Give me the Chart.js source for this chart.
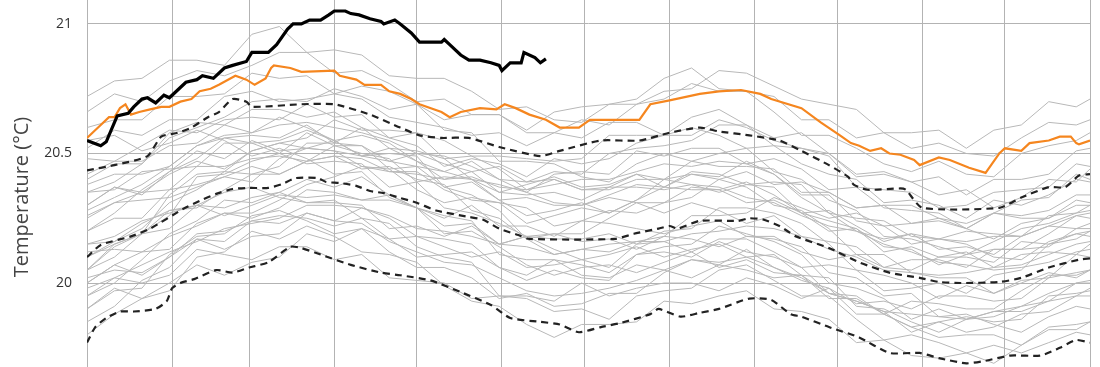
<!DOCTYPE html>
<html><head><meta charset="utf-8">
<script src="https://cdn.jsdelivr.net/npm/chart.js@4/dist/chart.umd.min.js"></script>
<style>
html,body{margin:0;padding:0;background:#fff;overflow:hidden;width:1100px;height:367px;}
#wrap{position:absolute;left:0;top:-10px;width:1100px;height:414px;}
</style></head><body>
<div id="wrap"><canvas id="c"></canvas></div>
<script>
const monthStartDays = [0,31,59,90,120,151,181,212,243,273,304,334,365];
const yTickValues = [20, 20.5, 21];
const yMin = 19.533, yMax = 21.131;

const greyDays = [0,10,20,30,40,50,60,70,80,90,100,110,120,130,140,150,160,170,180,190,200,210,220,230,240,250,260,270,280,290,300,310,320,330,340,350,360,365];
const grey01 = [20.72,20.78,20.79,20.86,20.86,20.84,20.96,20.99,20.89,20.90,20.88,20.80,20.79,20.79,20.74,20.67,20.68,20.63,20.62,20.69,20.69,20.74,20.75,20.82,20.81,20.76,20.71,20.69,20.67,20.58,20.58,20.59,20.52,20.59,20.61,20.70,20.68,20.71];
const grey02 = [20.66,20.73,20.70,20.78,20.82,20.80,20.84,20.89,20.89,20.81,20.82,20.77,20.70,20.71,20.65,20.65,20.59,20.66,20.68,20.69,20.71,20.79,20.83,20.75,20.74,20.72,20.63,20.63,20.56,20.58,20.52,20.54,20.50,20.49,20.56,20.62,20.61,20.63];
const grey03 = [20.60,20.63,20.63,20.72,20.72,20.73,20.81,20.79,20.80,20.73,20.76,20.74,20.69,20.63,20.65,20.65,20.58,20.58,20.63,20.61,20.69,20.71,20.77,20.74,20.74,20.66,20.57,20.57,20.52,20.46,20.43,20.47,20.42,20.41,20.50,20.53,20.55,20.58];
const grey04 = [20.52,20.59,20.57,20.63,20.63,20.72,20.74,20.70,20.71,20.73,20.71,20.64,20.62,20.60,20.57,20.58,20.53,20.58,20.56,20.62,20.62,20.57,20.64,20.67,20.61,20.56,20.58,20.50,20.41,20.42,20.39,20.34,20.36,20.29,20.33,20.40,20.39,20.44];
const grey05 = [20.48,20.47,20.53,20.59,20.58,20.63,20.64,20.63,20.69,20.64,20.65,20.56,20.58,20.55,20.49,20.49,20.48,20.47,20.48,20.57,20.57,20.57,20.60,20.57,20.52,20.53,20.46,20.42,20.40,20.31,20.32,20.30,20.25,20.32,20.30,20.34,20.40,20.39];
const grey06 = [20.42,20.47,20.47,20.53,20.54,20.61,20.58,20.64,20.60,20.55,20.57,20.54,20.47,20.43,20.47,20.40,20.35,20.42,20.43,20.42,20.51,20.49,20.52,20.52,20.46,20.48,20.44,20.36,20.37,20.29,20.28,20.27,20.21,20.27,20.26,20.28,20.34,20.34];
const grey07 = [20.38,20.42,20.42,20.45,20.53,20.56,20.54,20.55,20.59,20.55,20.49,20.52,20.47,20.40,20.43,20.35,20.34,20.35,20.32,20.37,20.42,20.40,20.47,20.45,20.45,20.44,20.35,20.35,20.29,20.30,20.23,20.24,20.21,20.17,20.23,20.25,20.32,20.31];
const grey08 = [20.35,20.36,20.43,20.44,20.45,20.54,20.54,20.50,20.58,20.53,20.50,20.48,20.39,20.41,20.40,20.32,20.33,20.30,20.30,20.34,20.38,20.37,20.43,20.42,20.38,20.39,20.38,20.27,20.25,20.24,20.18,20.17,20.20,20.19,20.18,20.26,20.27,20.28];
const grey09 = [20.30,20.37,20.35,20.42,20.47,20.44,20.51,20.54,20.52,20.55,20.49,20.47,20.45,20.37,20.39,20.32,20.26,20.28,20.31,20.27,20.32,20.37,20.36,20.36,20.39,20.34,20.27,20.28,20.22,20.16,20.19,20.13,20.14,20.11,20.18,20.22,20.21,20.23];
const grey10 = [20.26,20.31,20.35,20.36,20.45,20.45,20.48,20.49,20.47,20.49,20.48,20.43,20.43,20.36,20.32,20.31,20.29,20.22,20.24,20.28,20.27,20.31,20.37,20.36,20.31,20.32,20.27,20.20,20.21,20.14,20.13,20.07,20.11,20.13,20.13,20.14,20.21,20.21];
const grey11 = [20.05,20.10,20.19,20.28,20.29,20.36,20.42,20.42,20.47,20.53,20.53,20.47,20.50,20.46,20.43,20.45,20.39,20.43,20.42,20.50,20.52,20.53,20.55,20.61,20.61,20.53,20.52,20.50,20.42,20.43,20.39,20.41,20.34,20.40,20.40,20.42,20.51,20.52];
const grey12 = [20.55,20.57,20.51,20.54,20.59,20.55,20.49,20.52,20.48,20.42,20.43,20.33,20.29,20.19,20.20,20.14,20.07,20.03,20.06,20.07,20.04,20.08,20.12,20.06,20.09,20.04,20.03,19.94,19.94,19.88,19.83,19.85,19.87,19.85,19.86,19.95,19.96,19.97];
const grey13 = [20.20,20.25,20.25,20.36,20.38,20.41,20.39,20.48,20.52,20.51,20.49,20.50,20.49,20.37,20.34,20.28,20.17,20.19,20.16,20.17,20.13,20.18,20.17,20.14,20.18,20.18,20.12,20.09,20.11,20.06,20.05,20.10,20.10,20.08,20.16,20.15,20.19,20.20];
const grey14 = [20.15,20.16,20.23,20.28,20.30,20.29,20.33,20.35,20.31,20.31,20.30,20.21,20.22,20.18,20.22,20.15,20.18,20.19,20.19,20.25,20.31,20.31,20.33,20.40,20.37,20.30,20.28,20.21,20.11,20.11,20.04,20.02,20.02,19.96,20.00,20.04,20.02,20.05];
const grey15 = [20.00,20.07,20.03,20.10,20.17,20.13,20.18,20.19,20.27,20.24,20.29,20.25,20.18,20.17,20.15,20.06,20.01,20.05,20.02,20.01,20.11,20.14,20.15,20.22,20.19,20.16,20.11,20.00,19.98,19.94,19.86,19.90,19.86,19.87,19.91,19.93,19.95,19.98];
const grey16 = [19.90,19.97,19.98,20.11,20.18,20.19,20.26,20.28,20.24,20.19,20.21,20.12,20.06,20.06,20.02,19.94,19.96,19.91,19.92,19.96,19.96,20.04,20.09,20.07,20.13,20.06,20.01,19.98,19.88,19.88,19.83,19.79,19.80,19.80,19.76,19.83,19.84,19.85];
const grey17 = [19.95,20.02,20.00,20.03,20.13,20.11,20.09,20.14,20.14,20.09,20.11,20.02,20.01,20.00,19.94,19.95,19.95,19.93,20.00,19.95,19.98,20.00,20.00,19.97,20.02,19.99,19.94,19.98,19.92,19.93,19.90,19.95,19.95,19.93,19.94,20.02,20.04,20.05];
const grey18 = [20.05,20.15,20.19,20.26,20.41,20.42,20.47,20.50,20.46,20.47,20.46,20.37,20.39,20.29,20.27,20.23,20.18,20.13,20.09,20.11,20.14,20.10,20.13,20.15,20.10,20.11,20.03,20.02,19.91,19.90,19.85,19.81,19.86,19.89,19.89,19.93,20.00,20.00];
const grey19 = [20.30,20.37,20.34,20.43,20.51,20.48,20.55,20.51,20.52,20.51,20.45,20.44,20.36,20.31,20.33,20.31,20.23,20.26,20.29,20.27,20.32,20.40,20.42,20.41,20.47,20.42,20.34,20.34,20.24,20.22,20.15,20.17,20.15,20.10,20.09,20.16,20.19,20.18];
const grey20 = [20.10,20.16,20.21,20.31,20.36,20.43,20.42,20.45,20.54,20.54,20.60,20.52,20.51,20.48,20.40,20.38,20.35,20.31,20.30,20.33,20.31,20.27,20.31,20.28,20.23,20.26,20.18,20.16,20.14,20.06,20.09,20.09,20.06,20.13,20.13,20.19,20.26,20.25];
const grey21 = [20.00,20.07,20.12,20.13,20.23,20.27,20.25,20.29,20.36,20.35,20.32,20.34,20.29,20.25,20.30,20.22,20.22,20.18,20.24,20.23,20.21,20.19,20.22,20.24,20.18,20.17,20.14,20.04,20.02,19.95,19.96,19.87,19.88,19.84,19.81,19.87,19.91,19.90];
const grey22 = [20.20,20.27,20.36,20.43,20.48,20.56,20.57,20.56,20.61,20.54,20.53,20.44,20.45,20.43,20.40,20.35,20.38,20.41,20.37,20.38,20.42,20.37,20.42,20.40,20.43,20.38,20.39,20.35,20.29,20.30,20.30,20.25,20.23,20.27,20.25,20.25,20.30,20.30];
const grey23 = [19.85,19.91,20.01,20.06,20.17,20.16,20.24,20.26,20.25,20.22,20.25,20.23,20.14,20.10,20.08,19.95,19.94,19.89,19.90,19.86,19.95,19.97,19.98,20.05,20.07,20.01,19.95,19.95,19.86,19.78,19.80,19.77,19.73,19.76,19.73,19.77,19.81,19.80];
const grey24 = [20.25,20.31,20.32,20.33,20.37,20.41,20.45,20.42,20.47,20.49,20.44,20.45,20.40,20.38,20.28,20.25,20.17,20.11,20.13,20.15,20.16,20.18,20.26,20.26,20.27,20.33,20.29,20.25,20.27,20.22,20.23,20.25,20.21,20.27,20.32,20.33,20.42,20.40];
const grey25 = [19.80,19.88,19.94,19.97,20.10,20.12,20.20,20.17,20.22,20.18,20.12,20.11,20.08,19.99,19.93,19.91,19.84,19.79,19.84,19.84,19.85,19.93,19.92,19.95,19.97,19.90,19.89,19.86,19.77,19.78,19.72,19.71,19.73,19.69,19.76,19.82,19.82,19.85];
const grey26 = [20.15,20.18,20.24,20.27,20.30,20.35,20.37,20.33,20.31,20.32,20.25,20.17,20.18,20.14,20.10,20.12,20.06,20.07,20.09,20.06,20.15,20.20,20.21,20.29,20.29,20.27,20.23,20.15,20.05,20.03,20.00,19.94,19.99,19.96,20.01,20.02,20.11,20.10];
const grey27 = [20.05,20.14,20.19,20.34,20.42,20.43,20.51,20.54,20.56,20.63,20.59,20.59,20.58,20.48,20.49,20.44,20.36,20.40,20.36,20.36,20.40,20.40,20.38,20.35,20.38,20.37,20.27,20.24,20.21,20.12,20.14,20.10,20.12,20.06,20.11,20.12,20.11,20.15];
const grey28 = [20.40,20.46,20.46,20.58,20.62,20.61,20.67,20.67,20.64,20.66,20.60,20.56,20.53,20.45,20.48,20.46,20.41,20.48,20.46,20.48,20.54,20.57,20.57,20.63,20.60,20.55,20.52,20.49,20.37,20.36,20.35,20.29,20.30,20.35,20.36,20.37,20.46,20.45];
const grey29 = [19.95,20.00,20.09,20.19,20.24,20.32,20.31,20.35,20.40,20.37,20.41,20.34,20.29,20.26,20.24,20.11,20.09,20.09,20.03,20.02,20.07,20.05,20.02,20.07,20.05,20.02,20.03,19.96,19.95,19.88,19.93,19.92,19.90,19.90,19.97,20.03,20.03,20.05];
const grey30 = [20.10,20.15,20.19,20.21,20.30,20.26,20.30,20.34,20.33,20.34,20.32,20.32,20.29,20.22,20.23,20.15,20.18,20.17,20.17,20.19,20.15,20.16,20.12,20.17,20.17,20.12,20.06,20.07,20.05,19.97,19.98,20.00,19.96,20.03,20.05,20.15,20.17,20.20];
const grey31 = [20.35,20.39,20.46,20.56,20.60,20.64,20.70,20.71,20.70,20.75,20.72,20.67,20.69,20.59,20.58,20.47,20.47,20.46,20.41,20.39,20.46,20.50,20.47,20.50,20.52,20.43,20.40,20.32,20.28,20.18,20.17,20.14,20.11,20.16,20.21,20.23,20.27,20.30];
const grey32 = [19.90,19.98,19.94,20.00,20.07,20.03,20.08,20.10,20.19,20.16,20.21,20.17,20.10,20.11,20.12,20.06,20.03,20.09,20.07,20.04,20.11,20.12,20.10,20.16,20.12,20.10,20.06,19.96,19.93,19.89,19.81,19.85,19.81,19.83,19.88,19.89,19.95,19.95];
const grey33 = [20.12,20.13,20.12,20.18,20.22,20.27,20.27,20.32,20.38,20.41,20.45,20.43,20.42,20.40,20.41,20.37,20.36,20.38,20.40,20.40,20.43,20.46,20.45,20.47,20.46,20.42,20.33,20.27,20.20,20.15,20.12,20.08,20.07,20.05,20.06,20.08,20.12,20.13];
const grey34 = [19.98,20.02,20.07,20.12,20.16,20.21,20.23,20.25,20.30,20.30,20.29,20.26,20.21,20.20,20.18,20.15,20.14,20.11,20.13,20.12,20.16,20.16,20.19,20.20,20.22,20.21,20.18,20.13,20.10,20.05,20.04,20.03,20.04,20.06,20.07,20.11,20.15,20.16];
const grey35 = [20.28,20.33,20.38,20.45,20.53,20.57,20.58,20.61,20.62,20.60,20.58,20.55,20.50,20.49,20.45,20.40,20.39,20.40,20.36,20.37,20.37,20.36,20.38,20.37,20.33,20.31,20.26,20.22,20.20,20.17,20.19,20.17,20.16,20.18,20.18,20.22,20.26,20.27];
const grey36 = [20.02,20.05,20.04,20.10,20.19,20.20,20.24,20.23,20.27,20.24,20.23,20.16,20.12,20.08,20.07,20.02,19.97,19.95,19.96,19.98,20.01,20.05,20.09,20.08,20.10,20.06,20.02,19.96,19.93,19.89,19.88,19.87,19.86,19.89,19.91,19.96,20.00,20.01];

const orangeDays = [0,2,5,8,10,12,14,16,19,23,27,30,34,38,41,45,48,54,58,61,65,67,68,74,78,90,92,98,101,107,110,114,118,121,129,132,136,143,149,152,156,161,167,172,179,183,201,205,212,223,230,238,245,249,260,267,274,278,281,285,289,292,296,301,303,310,314,321,327,329,332,334,340,343,350,354,358,360,361,365];
const orangeValues = [20.56,20.58,20.61,20.64,20.64,20.675,20.69,20.65,20.66,20.67,20.68,20.68,20.70,20.71,20.74,20.75,20.765,20.80,20.785,20.765,20.79,20.83,20.84,20.83,20.815,20.82,20.80,20.785,20.765,20.765,20.74,20.73,20.71,20.69,20.66,20.64,20.66,20.675,20.67,20.69,20.675,20.65,20.63,20.60,20.60,20.63,20.63,20.69,20.705,20.73,20.74,20.745,20.73,20.71,20.675,20.62,20.57,20.54,20.53,20.51,20.52,20.50,20.495,20.475,20.455,20.485,20.475,20.445,20.425,20.455,20.50,20.52,20.51,20.54,20.55,20.565,20.565,20.54,20.535,20.55];

const currentDays = [0,5,7,11,15,17,20,22,25,28,30,33,36,40,42,46,50,53,58,60,66,69,73,75,78,81,85,88,90,94,96,99,103,107,108,112,114,118,121,129,130,132,136,139,143,147,150,151,154,158,159,163,165,167];
const currentValues = [20.55,20.53,20.545,20.645,20.655,20.68,20.71,20.715,20.695,20.725,20.715,20.745,20.775,20.785,20.80,20.79,20.83,20.84,20.855,20.89,20.89,20.92,20.98,21.00,21.00,21.015,21.015,21.035,21.05,21.05,21.04,21.035,21.02,21.01,21.00,21.015,21.00,20.965,20.93,20.93,20.94,20.92,20.88,20.86,20.86,20.85,20.84,20.82,20.85,20.85,20.89,20.87,20.85,20.865];

const upperDays = [0,10,22,27,33,38,44,48,53,58,60,78,90,103,114,121,129,139,150,165,172,187,201,212,223,230,241,252,260,270,277,279,284,296,298,304,332,340,350,356,361,365];
const upperValues = [20.435,20.455,20.49,20.565,20.58,20.60,20.64,20.66,20.71,20.70,20.68,20.69,20.69,20.65,20.60,20.57,20.56,20.56,20.525,20.49,20.51,20.55,20.55,20.58,20.60,20.585,20.57,20.55,20.51,20.455,20.41,20.38,20.36,20.365,20.36,20.29,20.29,20.33,20.37,20.37,20.415,20.42];

const meanDays = [0,5,16,23,35,41,47,53,59,66,71,76,84,87,92,98,103,108,114,120,127,139,144,150,157,161,192,199,208,212,215,223,237,241,246,252,258,270,281,292,303,310,318,332,340,350,361,365];
const meanValues = [20.10,20.147,20.18,20.21,20.286,20.317,20.344,20.363,20.367,20.367,20.382,20.405,20.405,20.39,20.386,20.375,20.355,20.347,20.328,20.31,20.28,20.255,20.245,20.21,20.185,20.17,20.17,20.19,20.21,20.22,20.21,20.24,20.24,20.25,20.245,20.22,20.18,20.135,20.08,20.04,20.02,20.004,20.0,20.004,20.02,20.06,20.09,20.095];

const lowerDays = [0,3,7,12,17,25,29,31,34,39,47,53,59,66,74,78,85,96,107,114,125,136,147,154,165,172,179,187,194,205,208,216,223,230,241,249,256,260,270,281,292,303,310,320,327,336,347,354,360,365];
const lowerValues = [19.77,19.83,19.865,19.89,19.89,19.90,19.93,19.98,20.0,20.015,20.05,20.04,20.06,20.08,20.14,20.135,20.11,20.07,20.04,20.03,20.01,19.965,19.915,19.865,19.85,19.84,19.81,19.83,19.845,19.88,19.90,19.87,19.885,19.90,19.94,19.935,19.88,19.87,19.83,19.79,19.73,19.73,19.71,19.69,19.70,19.72,19.72,19.75,19.78,19.77];

const greySeries = [grey01,grey02,grey03,grey04,grey05,grey06,grey07,grey08,grey09,grey10,grey11,grey12,grey13,grey14,grey15,grey16,grey17,grey18,grey19,grey20,grey21,grey22,grey23,grey24,grey25,grey26,grey27,grey28,grey29,grey30,grey31,grey32,grey33,grey34,grey35,grey36];

function pts(days, vals){ return days.map((d,i)=>({x:d, y:vals[i]})); }

const datasets = [];
datasets.push({data: pts(currentDays, currentValues), borderColor:'#000000', borderWidth:3.2, pointRadius:0, tension:0, fill:false});
datasets.push({data: pts(orangeDays, orangeValues), borderColor:'#f5861f', borderWidth:2.2, pointRadius:0, tension:0, fill:false});
[[upperDays,upperValues],[meanDays,meanValues],[lowerDays,lowerValues]].forEach(([d,v])=>{
  datasets.push({data: pts(d, v), borderColor:'#222222', borderWidth:2.2, borderDash:[7,5], pointRadius:0, tension:0.2, fill:false});
});
greySeries.forEach(v=>{
  datasets.push({data: pts(greyDays, v), borderColor:'#b8b8b8', borderWidth:1, pointRadius:0, tension:0, fill:false});
});

Chart.defaults.font.family = '"Open Sans", "Noto Sans", sans-serif';

new Chart(document.getElementById('c'), {
  type: 'line',
  data: { datasets },
  options: {
    responsive: true,
    maintainAspectRatio: false,
    animation: false,
    events: [],
    layout: { padding: { left: 0, right: 10, top: 0, bottom: 0 } },
    plugins: { legend: { display: false }, tooltip: { enabled: false } },
    scales: {
      x: {
        type: 'linear', min: 0, max: 365,
        afterBuildTicks: s => { s.ticks = monthStartDays.map(v => ({ value: v })); },
        ticks: { display: false },
        grid: { color: '#b3b3b3', lineWidth: 1, drawTicks: false },
        border: { display: false }
      },
      y: {
        min: yMin, max: yMax,
        afterBuildTicks: s => { s.ticks = yTickValues.map(v => ({ value: v })); },
        ticks: { color: '#333333', font: { size: 14 }, padding: 15, callback: v => String(v) },
        grid: { color: '#b3b3b3', lineWidth: 1, drawTicks: false },
        border: { display: false },
        title: { display: true, text: 'Temperature (°C)', color: '#444444', font: { size: 20 }, padding: { top: 10, bottom: 0 } },
        afterFit: s => { s.width = 87; s.paddingTop = 0; s.paddingBottom = 0; }
      }
    }
  }
});
</script>
</body></html>
